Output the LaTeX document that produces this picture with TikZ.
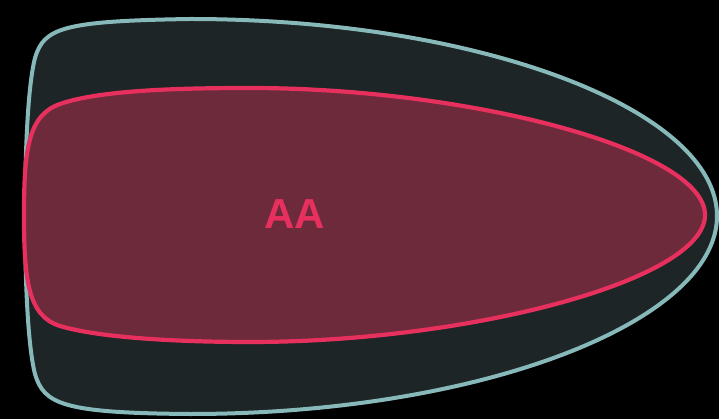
\documentclass[tikz,border=0pt]{standalone}
\usepackage{fontspec}
\setmainfont{Liberation Sans}
\definecolor{fondo}{HTML}{000000}
\definecolor{exterior}{HTML}{1D2526}
\definecolor{bordeext}{HTML}{88B9BA}
\definecolor{interior}{HTML}{6C2A3B}
\definecolor{bordeint}{HTML}{E8305F}
\tikzset{
  capaext/.style={fill=exterior, draw=bordeext, line width=4pt},
  capaint/.style={fill=interior, draw=bordeint, line width=4.2pt},
  etiqueta/.style={text=bordeint, font=\fontsize{42}{42}\selectfont\bfseries}
}
\begin{document}
\begin{tikzpicture}[x=1pt, y=-1pt]
        % Fondo
        \fill[fondo] (0,0) rectangle (719,419);
        \useasboundingbox (0,0) rectangle (719,419);
        % Capa exterior
        \draw[capaext] (25,216) .. controls (25,150) and (28,85) .. (35,58)
            .. controls (44,28) and (62,21) .. (190,19)
            .. controls (480,19) and (717,110) .. (717,216)
            .. controls (717,322) and (480,414) .. (190,414)
            .. controls (62,413) and (44,404) .. (35,374)
            .. controls (28,347) and (25,282) .. cycle;
        % Capa interior
        \draw[capaint] (24,215) .. controls (24,150) and (28,115) .. (60,104)
            .. controls (100,90) and (180,88) .. (250,88)
            .. controls (470,88) and (705,150) .. (705,215)
            .. controls (705,280) and (470,342) .. (250,342)
            .. controls (180,342) and (100,338) .. (60,326)
            .. controls (28,316) and (24,280) .. cycle;
        % Texto
        \node[etiqueta] (aa) at (295,214) {AA};
    \end{tikzpicture}
\end{document}
